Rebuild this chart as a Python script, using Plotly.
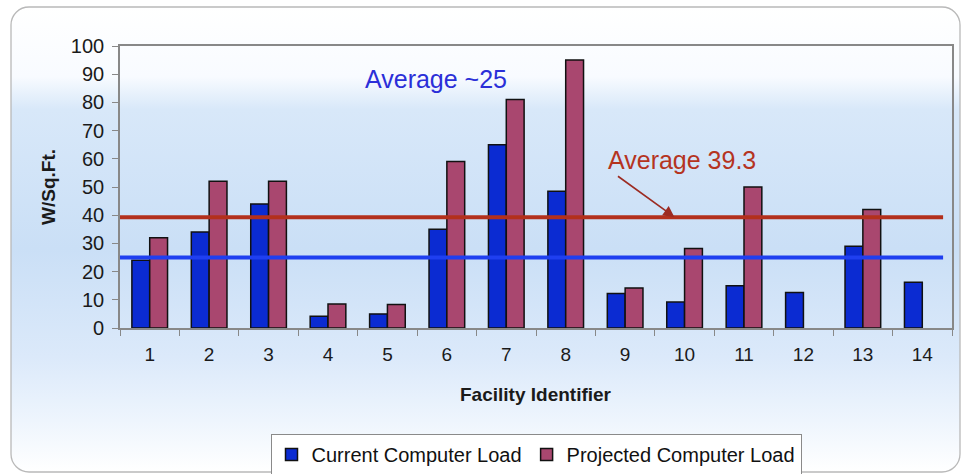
import base64
import plotly.graph_objects as go

# Facility loads in W/sq.ft.
facilities = [str(i) for i in range(1, 15)]
current_load = [24, 34, 44, 4.2, 5, 35, 65, 48.5, 12.2, 9.2, 15, 12.6, 29, 16.2]
projected_load = [32, 52, 52, 8.5, 8.3, 59, 81, 95, 14.2, 28.2, 50, None, 42, None]
y_ticks = list(range(0, 101, 10))

avg_current = 25
avg_projected = 39.3
avg_current_label = "Average ~25"
avg_projected_label = "Average 39.3"

W, H = 963, 474
L, R, T, B = 120, 11, 46, 146
PW, PH = W - L - R, H - T - B

FONT = "Arial, Liberation Sans, sans-serif"


def px_to_paper_x(px):
    return (px - L) / PW


def px_to_paper_y(py):
    return (T + PH - py) / PH


# Rounded panel with a soft blue vertical gradient behind the chart
svg = f"""<svg xmlns='http://www.w3.org/2000/svg' width='{W}' height='{H}' viewBox='0 0 {W} {H}'>
<defs><linearGradient id='g' x1='0' y1='0' x2='0' y2='1'>
<stop offset='0' stop-color='#ffffff'/>
<stop offset='0.15' stop-color='#f8fbff'/>
<stop offset='0.22' stop-color='#d8e8f9'/>
<stop offset='0.52' stop-color='#cadff6'/>
<stop offset='0.75' stop-color='#dbe9fa'/>
<stop offset='0.89' stop-color='#eef5fd'/>
<stop offset='1' stop-color='#ffffff'/>
</linearGradient></defs>
<rect x='11' y='7' width='949' height='465' rx='18' ry='18' fill='url(#g)' stroke='#b9b9b9' stroke-width='1.3'/>
</svg>"""
panel_src = "data:image/svg+xml;base64," + base64.b64encode(svg.encode()).decode()

fig = go.Figure()
fig.add_trace(go.Bar(
    x=facilities, y=current_load, name="Current Computer Load",
    marker=dict(color="#0b2bd2", line=dict(color="#111111", width=1.5)),
))
fig.add_trace(go.Bar(
    x=facilities, y=projected_load, name="Projected Computer Load",
    marker=dict(color="#a9476f", line=dict(color="#111111", width=1.5)),
))

line_end = 13.35
fig.add_shape(type="line", xref="x", yref="y", x0=-0.5, x1=line_end,
              y0=avg_projected, y1=avg_projected,
              line=dict(color="#b3301c", width=4), layer="above")
fig.add_shape(type="line", xref="x", yref="y", x0=-0.5, x1=line_end,
              y0=avg_current, y1=avg_current,
              line=dict(color="#1f3ff0", width=4), layer="above")


def label(text, px, py, size, color, bold=False, angle=0):
    fig.add_annotation(
        text=f"<b>{text}</b>" if bold else text,
        xref="paper", yref="paper", x=px_to_paper_x(px), y=px_to_paper_y(py),
        xanchor="center", yanchor="middle", showarrow=False, textangle=angle,
        font=dict(family=FONT, size=size, color=color))


label(avg_current_label, 436, 79, 25, "#2b2fd8")
label(avg_projected_label, 682, 160, 25, "#b5341f")
fig.add_annotation(text="", xref="x", yref="y", x=8.83, y=avg_projected,
                   ax=-58, ay=-42, showarrow=True, arrowhead=2, arrowsize=1.4,
                   arrowwidth=1.6, arrowcolor="#9c2b22")

# Axis titles
label("Facility Identifier", 536, 394, 19, "#1a1a1a", bold=True)
label("W/Sq.Ft.", 48, 187, 19, "#1a1a1a", bold=True, angle=-90)

fig.update_layout(
    width=W, height=H,
    margin=dict(l=L, r=R, t=T, b=B, autoexpand=False),
    paper_bgcolor="#ffffff", plot_bgcolor="#ffffff",
    barmode="group", bargap=0.4, bargroupgap=0,
    font=dict(family=FONT, color="#1a1a1a"),
    showlegend=True,
    legend=dict(orientation="h", x=0.5, xanchor="center",
                y=px_to_paper_y(434), yanchor="top",
                bgcolor="#ffffff", bordercolor="#8a8a8a", borderwidth=1,
                font=dict(family=FONT, size=20, color="#111111"),
                traceorder="normal"),
    images=[dict(source=panel_src, xref="paper", yref="paper",
                 x=-L / PW, y=1 + T / PH, sizex=W / PW, sizey=H / PH,
                 xanchor="left", yanchor="top", sizing="stretch",
                 layer="below")],
)
fig.update_xaxes(
    type="category", categoryorder="array", categoryarray=facilities,
    range=[-0.5, 13.5], tickson="boundaries", ticks="outside", ticklen=6,
    tickcolor="#888888", tickwidth=1.3, ticklabelstandoff=8,
    showline=True, linecolor="#888888", linewidth=1.6, mirror=True,
    showgrid=False, automargin=False,
    tickfont=dict(family=FONT, size=19, color="#1a1a1a"),
)
fig.update_yaxes(
    range=[0, 100], tickvals=y_ticks, ticks="outside", ticklen=6,
    tickcolor="#888888", tickwidth=1.3, ticklabelstandoff=4,
    showline=True, linecolor="#888888", linewidth=1.6, mirror=True,
    showgrid=False, zeroline=False, automargin=False,
    tickfont=dict(family=FONT, size=20, color="#1a1a1a"),
)

fig.write_html("out.html")
